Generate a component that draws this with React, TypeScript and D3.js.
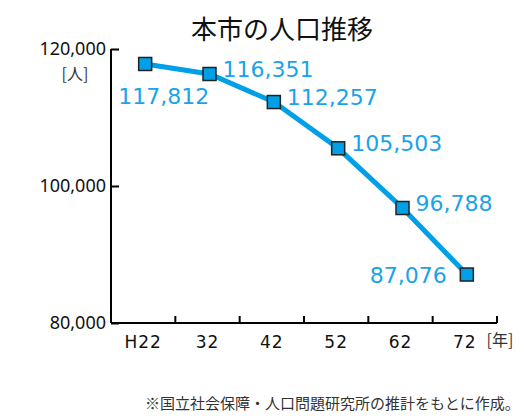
import React, { useEffect, useRef } from "react";
import * as d3 from "d3";

const years = ["H22", "32", "42", "52", "62", "72"];
const population = [117812, 116351, 112257, 105503, 96788, 87076];
const yTicks = [80000, 100000, 120000];
// where each value label sits relative to its marker
const labelSide = ["below", "right", "right", "right", "right", "left"];

const BLUE = "#00a0e9";

export default function App() {
  const ref = useRef<SVGSVGElement>(null);

  useEffect(() => {
    const width = 524;
    const height = 416;
    const margin = { top: 49, right: 27, bottom: 93, left: 111 };

    const svg = d3.select(ref.current).attr("width", width).attr("height", height);
    svg.selectAll("*").remove();

    const x = d3.scaleBand<string>().domain(years).range([margin.left, width - margin.right]);
    const y = d3.scaleLinear().domain([80000, 120000]).range([height - margin.bottom, margin.top]);

    // y axis (ticks pointing inward)
    const yAxis = svg.append("g").attr("transform", `translate(${margin.left},0)`)
      .call(d3.axisRight(y).tickValues(yTicks).tickSize(8).tickFormat(() => ""));
    yAxis.select(".domain").remove();
    yAxis.selectAll("line").attr("stroke", "#000").attr("stroke-width", 2);
    svg.append("line")
      .attr("x1", margin.left).attr("x2", margin.left)
      .attr("y1", y(120000)).attr("y2", y(80000))
      .attr("stroke", "#000").attr("stroke-width", 2);

    svg.append("g").selectAll("text").data(yTicks).enter()
      .append("text")
      .attr("x", margin.left - 5)
      .attr("y", d => y(d) + 6)
      .attr("text-anchor", "end")
      .style("font-family", "'Noto Sans'")
      .style("font-size", "18px")
      .attr("fill", "#111")
      .text(d => d3.format(",")(d));

    svg.append("text")
      .attr("x", 75).attr("y", 80)
      .attr("text-anchor", "middle")
      .style("font-family", "'Noto Sans CJK JP'")
      .style("font-size", "16px")
      .attr("fill", "#333")
      .text("[人]");

    // x axis (ticks pointing up, at band edges)
    const x0 = y(80000);
    svg.append("line")
      .attr("x1", margin.left).attr("x2", width - margin.right)
      .attr("y1", x0).attr("y2", x0)
      .attr("stroke", "#000").attr("stroke-width", 2);
    svg.append("g").selectAll("line").data(years).enter()
      .append("line")
      .attr("x1", d => (x(d) as number) + x.bandwidth())
      .attr("x2", d => (x(d) as number) + x.bandwidth())
      .attr("y1", x0).attr("y2", x0 - 7)
      .attr("stroke", "#000").attr("stroke-width", 2);

    svg.append("g").selectAll("text").data(years).enter()
      .append("text")
      .attr("x", d => (x(d) as number) + x.bandwidth() / 2)
      .attr("y", x0 + 25)
      .attr("text-anchor", "middle")
      .style("font-family", "'DejaVu Sans'")
      .style("font-size", "17px")
      .style("letter-spacing", "1px")
      .attr("fill", "#111")
      .text(d => d);

    svg.append("text")
      .attr("x", 500).attr("y", 346)
      .attr("text-anchor", "middle")
      .style("font-family", "'Noto Sans CJK JP'")
      .style("font-size", "16px")
      .attr("fill", "#333")
      .text("[年]");

    const cx = (i: number) => (x(years[i]) as number) + x.bandwidth() / 2 + 2;

    // line
    const line = d3.line<number>().x((_, i) => cx(i)).y(d => y(d));
    svg.append("path")
      .datum(population)
      .attr("d", line)
      .attr("fill", "none")
      .attr("stroke", BLUE)
      .attr("stroke-width", 5);

    // markers
    const s = 13;
    svg.append("g").selectAll("rect").data(population).enter()
      .append("rect")
      .attr("x", (_, i) => cx(i) - s / 2)
      .attr("y", d => y(d) - s / 2)
      .attr("width", s).attr("height", s)
      .attr("fill", BLUE)
      .attr("stroke", "#222")
      .attr("stroke-width", 1.5);

    // value labels
    svg.append("g").selectAll("text").data(population).enter()
      .append("text")
      .attr("x", (_, i) => labelSide[i] === "below" ? cx(i) - 27 : labelSide[i] === "left" ? cx(i) - 20 : cx(i) + 13)
      .attr("y", (d, i) => labelSide[i] === "below" ? y(d) + 40 : labelSide[i] === "left" ? y(d) + 8 : y(d) + 3)
      .attr("text-anchor", (_, i) => labelSide[i] === "left" ? "end" : "start")
      .style("font-family", "'DejaVu Sans'")
      .style("font-size", "22px")
      .attr("fill", "#1aa3e8")
      .text(d => d3.format(",")(d));

    // titles
    svg.append("text")
      .attr("x", 282).attr("y", 39)
      .attr("text-anchor", "middle")
      .style("font-family", "'Noto Sans CJK JP'")
      .style("font-size", "26px")
      .attr("fill", "#111")
      .text("本市の人口推移");

    svg.append("text")
      .attr("x", 145).attr("y", 409)
      .style("font-family", "'Noto Sans CJK JP'")
      .style("font-size", "15px")
      .attr("fill", "#333")
      .text("※国立社会保障・人口問題研究所の推計をもとに作成。");
  }, []);

  return <svg ref={ref} style={{ position: "absolute", left: 0, top: 0, background: "#fff" }}></svg>;
}
